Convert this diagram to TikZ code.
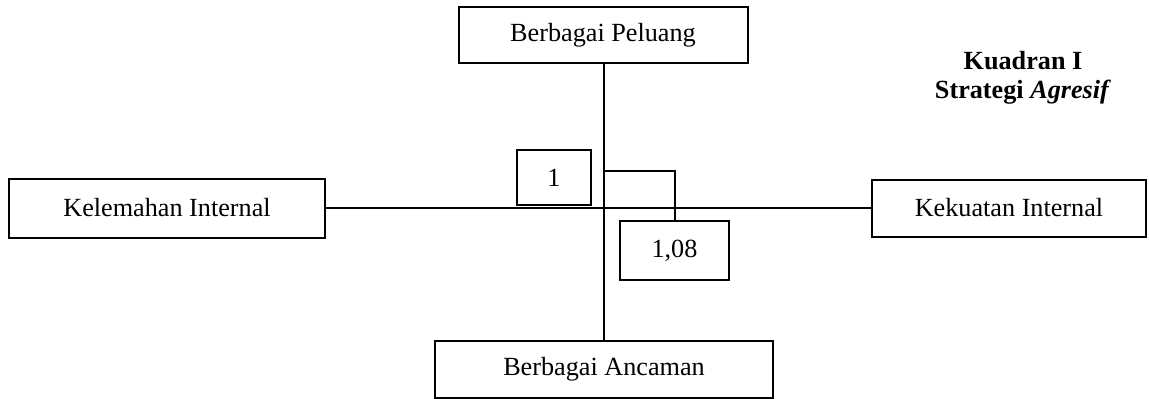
\documentclass[tikz,border=0pt]{standalone}
\usepackage{fontspec}
\setmainfont{Liberation Serif}
\begin{document}
\begin{tikzpicture}[x=1pt,y=-1pt,
  box/.style={draw,line width=2pt,inner sep=0pt,font=\fontsize{26.2}{30}\selectfont},
  conn/.style={line width=2pt}]
\useasboundingbox (0,0) rectangle (1149,399);
\node[box,minimum width=289pt,minimum height=56pt] (pel) at (603,35) {Berbagai Peluang};
\node[box,minimum width=338pt,minimum height=57pt] (anc) at (604,369.5) {Berbagai Ancaman};
\node[box,minimum width=316pt,minimum height=59pt] (kel) at (167,208) {Kelemahan Internal};
\node[box,minimum width=274pt,minimum height=57pt] (kek) at (1009,208) {Kekuatan Internal};
\node[box,minimum width=74pt,minimum height=55pt] (one) at (554,177.5) {1};
\node[box,minimum width=109pt,minimum height=59pt] (val) at (674.5,250.5) {1,08};
\node[font=\fontsize{26.2}{29}\selectfont\bfseries,align=center,inner sep=0pt] (kuad) at (1023,78) {Kuadran I\\Strategi \textit{Agresif}};
\draw[conn] (pel.south -| anc.north) -- (anc.north);
\draw[conn] (kel.east) -- (kek.west);
\coordinate (b1) at (604,171);
\draw[conn] (b1) -| (val.north);
\end{tikzpicture}
\end{document}
